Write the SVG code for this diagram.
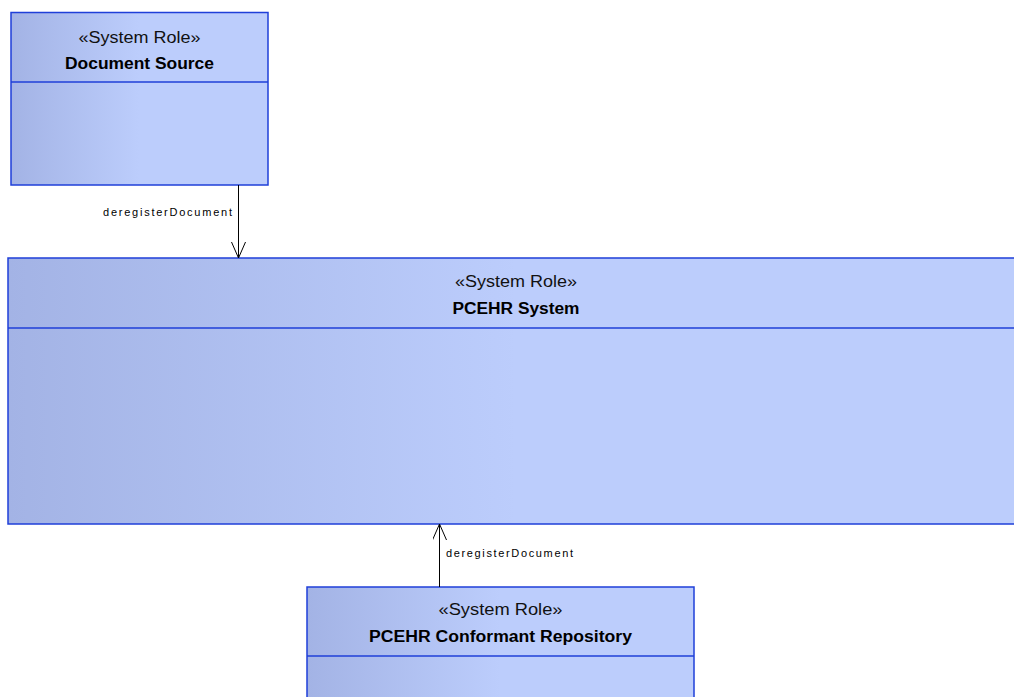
<svg xmlns="http://www.w3.org/2000/svg" width="1014" height="697" viewBox="0 0 1014 697">
<defs>
<linearGradient id="g" x1="0" y1="0" x2="1" y2="0">
<stop offset="0" stop-color="#a3b3e5"/>
<stop offset="0.5" stop-color="#bccdfc"/>
<stop offset="1" stop-color="#bccdfc"/>
</linearGradient>
<marker id="open" markerWidth="20" markerHeight="20" refX="16" refY="7" orient="auto" markerUnits="userSpaceOnUse">
<path d="M0,0 L16,7 L0,14" fill="none" stroke="#000" stroke-width="1"/>
</marker>
<style>
.box{fill:url(#g);stroke:#1f3fd9;stroke-width:1.5}
.div{stroke:#1f3fd9;stroke-width:1.5}
.st{font-family:"Liberation Sans",Arial,sans-serif;font-size:16px;fill:#111;text-anchor:middle}
.nm{font-family:"Liberation Sans",Arial,sans-serif;font-size:16px;font-weight:bold;fill:#000;text-anchor:middle}
.lb{font-family:"Liberation Sans",Arial,sans-serif;font-size:11px;fill:#000}
.cn{stroke:#000;stroke-width:1;fill:none}
</style>
</defs>
<rect width="1014" height="697" fill="#fff"/>
<g id="document-source">
<rect class="box" x="11" y="12.5" width="257" height="172.5"/>
<line class="div" x1="11" y1="82" x2="268" y2="82"/>
<text class="st" x="139.5" y="43" textLength="122" lengthAdjust="spacingAndGlyphs">«System Role»</text>
<text class="nm" x="139.5" y="69" textLength="149" lengthAdjust="spacingAndGlyphs">Document Source</text>
</g>
<g id="pcehr-system">
<rect class="box" x="8" y="258" width="1016" height="266"/>
<line class="div" x1="8" y1="328" x2="1024" y2="328"/>
<text class="st" x="516" y="287" textLength="122" lengthAdjust="spacingAndGlyphs">«System Role»</text>
<text class="nm" x="516" y="314" textLength="127" lengthAdjust="spacingAndGlyphs">PCEHR System</text>
</g>
<g id="pcehr-conformant-repository">
<rect class="box" x="307" y="587" width="387" height="120"/>
<line class="div" x1="307" y1="656" x2="694" y2="656"/>
<text class="st" x="500.5" y="615" textLength="124" lengthAdjust="spacingAndGlyphs">«System Role»</text>
<text class="nm" x="500.5" y="642" textLength="263" lengthAdjust="spacingAndGlyphs">PCEHR Conformant Repository</text>
</g>
<g id="connectors">
<line class="cn" x1="238.5" y1="185" x2="238.5" y2="258" marker-end="url(#open)"/>
<text class="lb" x="103" y="216" textLength="129" lengthAdjust="spacing">deregisterDocument</text>
<line class="cn" x1="439.5" y1="587" x2="439.5" y2="524" marker-end="url(#open)"/>
<text class="lb" x="446" y="557" textLength="127" lengthAdjust="spacing">deregisterDocument</text>
</g>
</svg>
